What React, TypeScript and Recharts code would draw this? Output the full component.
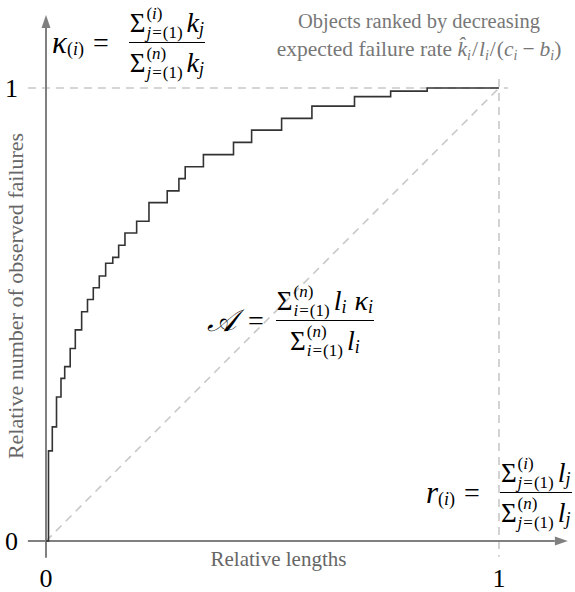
import React from 'react'
import { LineChart, Line, XAxis, YAxis, ReferenceLine, Label } from 'recharts'

// cumulative relative length where each step of the curve happens
const relLength = [
  0, 0.0055, 0.0139, 0.0232, 0.0331, 0.0413, 0.0534, 0.0647, 0.0787, 0.0916,
  0.1044, 0.1176, 0.1317, 0.1474, 0.1604, 0.1743, 0.2001, 0.2273, 0.2676, 0.2934,
  0.3073, 0.3475, 0.4139, 0.4539, 0.5201, 0.587, 0.681, 0.7608, 0.8414, 1,
]
// cumulative relative number of failures reached at that point
const relFailures = [
  0, 0.199, 0.252, 0.318, 0.359, 0.385, 0.425, 0.466, 0.506, 0.533,
  0.559, 0.585, 0.613, 0.626, 0.653, 0.68, 0.706, 0.747, 0.773, 0.8,
  0.826, 0.853, 0.88, 0.907, 0.933, 0.96, 0.981, 0.993, 1, 1,
]
const xTicks = [0, 1]
const yTicks = [0, 1]

const curve = relLength.map((x, i) => ({ x, y: relFailures[i] }))

const serif = "'Liberation Serif', 'Times New Roman', serif"
const axisGray = '#808080'
const dashGray = '#c8c8c8'

const ArrowLine = (props: any) => {
  const { x1, y1, x2, y2 } = props
  const ang = Math.atan2(y2 - y1, x2 - x1)
  const len = 13
  const half = 4.5
  const bx = x2 - len * Math.cos(ang)
  const by = y2 - len * Math.sin(ang)
  const px = -Math.sin(ang) * half
  const py = Math.cos(ang) * half
  return (
    <g>
      <line x1={x1} y1={y1} x2={bx} y2={by} stroke={axisGray} strokeWidth={2} />
      <polygon
        points={`${x2},${y2} ${bx + px},${by + py} ${bx - px},${by - py}`}
        fill={axisGray}
      />
    </g>
  )
}

const XTitle = (props: any) => {
  const { viewBox } = props
  return (
    <text
      x={viewBox.x + viewBox.width / 2 + 6}
      y={viewBox.y + 25}
      textAnchor="middle"
      fontSize={21}
      fill="#666"
      fontFamily={serif}
    >
      Relative lengths
    </text>
  )
}

const YTitle = () => {
  const cx = 23
  const cy = 296
  return (
    <text
      x={cx}
      y={cy}
      transform={`rotate(-90 ${cx} ${cy})`}
      textAnchor="middle"
      fontSize={22}
      fill="#666"
      fontFamily={serif}
    >
      Relative number of observed failures
    </text>
  )
}

const Sub = ({ children }: { children: React.ReactNode }) => (
  <span style={{ fontSize: 18, position: 'relative', top: 6 }}>{children}</span>
)

const Sum = ({ up, lo }: { up: React.ReactNode; lo: React.ReactNode }) => (
  <span style={{ display: 'inline-flex', alignItems: 'center', marginRight: 4 }}>
    <span style={{ fontSize: 27, lineHeight: 1 }}>Σ</span>
    <span
      style={{
        display: 'inline-flex',
        flexDirection: 'column',
        fontSize: 17,
        lineHeight: '19px',
        marginLeft: 1,
      }}
    >
      <span>{up}</span>
      <span>{lo}</span>
    </span>
  </span>
)

const Lower = ({ v }: { v: string }) => (
  <>
    <i>{v}</i>
    <span style={{ margin: '0 1px' }}>=</span>(1)
  </>
)

const Frac = ({ num, den }: { num: React.ReactNode; den: React.ReactNode }) => (
  <span style={{ display: 'inline-flex', flexDirection: 'column', alignItems: 'center' }}>
    <span style={{ display: 'inline-flex', alignItems: 'center', padding: '0 1px 0' }}>{num}</span>
    <span style={{ alignSelf: 'stretch', borderTop: '1.6px solid #000' }} />
    <span style={{ display: 'inline-flex', alignItems: 'center', paddingTop: 1 }}>{den}</span>
  </span>
)

const Formula = ({ left, top, children }: { left: number; top: number; children: React.ReactNode }) => (
  <div
    style={{
      position: 'absolute',
      left,
      top,
      transform: 'translateY(-50%)',
      display: 'flex',
      alignItems: 'center',
      fontFamily: serif,
      fontSize: 28,
      color: '#000',
      whiteSpace: 'nowrap',
    }}
  >
    {children}
  </div>
)

const hatSub = { fontSize: 14, verticalAlign: '-4px' } as const
const eq = { margin: '0 20px 0 9px' }

export default function App() {
  return (
    <div style={{ position: 'absolute', left: 0, top: 0, width: 575, height: 592, background: '#fff' }}>
      <LineChart
        width={575}
        height={592}
        data={curve}
        margin={{ top: 88, right: 76, bottom: 50, left: 45 }}
      >
        <XAxis
          type="number"
          dataKey="x"
          domain={[0, 1]}
          ticks={xTicks}
          interval={0}
          axisLine={false}
          tickLine={false}
          tickSize={0}
          tickMargin={28}
          height={1}
          tick={{ fontSize: 26, fill: '#000', fontFamily: serif }}
        >
          <Label content={XTitle} />
        </XAxis>
        <YAxis
          type="number"
          domain={[0, 1]}
          ticks={yTicks}
          interval={0}
          axisLine={false}
          tickLine={false}
          tickSize={0}
          tickMargin={28}
          width={1}
          tick={{ fontSize: 26, fill: '#000', fontFamily: serif }}
        >
          <Label content={YTitle} />
        </YAxis>
        <ReferenceLine
          segment={[{ x: 0, y: 0 }, { x: 1, y: 1 }]}
          stroke={dashGray}
          strokeWidth={1.6}
          strokeDasharray="8 6"
          ifOverflow="visible"
        />
        <ReferenceLine
          segment={[{ x: -0.04, y: 1 }, { x: 1.02, y: 1 }]}
          stroke={dashGray}
          strokeWidth={1.6}
          strokeDasharray="8 6"
          ifOverflow="visible"
        />
        <ReferenceLine
          segment={[{ x: 1, y: 1.02 }, { x: 1, y: -0.035 }]}
          stroke={dashGray}
          strokeWidth={1.6}
          strokeDasharray="8 6"
          ifOverflow="visible"
        />
        <ReferenceLine
          segment={[{ x: -0.04, y: 0 }, { x: 1.152, y: 0 }]}
          ifOverflow="visible"
          shape={ArrowLine}
        />
        <ReferenceLine
          segment={[{ x: 0, y: -0.037 }, { x: 0, y: 1.161 }]}
          ifOverflow="visible"
          shape={ArrowLine}
        />
        <Line
          type="stepAfter"
          dataKey="y"
          stroke="#333"
          strokeWidth={1.6}
          dot={false}
          activeDot={false}
          isAnimationActive={false}
        />
      </LineChart>

      <div
        style={{
          position: 'absolute',
          left: 419,
          top: 7,
          transform: 'translateX(-50%)',
          textAlign: 'center',
          fontFamily: serif,
          fontSize: 20.5,
          lineHeight: '28px',
          color: '#777',
          whiteSpace: 'nowrap',
        }}
      >
        <div>Objects ranked by decreasing</div>
        <div style={{ fontSize: 21.5 }}>
          expected failure rate <i>k̂</i>
          <span style={hatSub}><i>i</i></span>
          <span style={{ margin: '0 1px' }}>/</span><i>l</i>
          <span style={hatSub}><i>i</i></span>
          <span style={{ margin: '0 1px' }}>/</span>(<i>c</i>
          <span style={hatSub}><i>i</i></span>
          <span style={{ margin: '0 5px' }}>−</span><i>b</i>
          <span style={hatSub}><i>i</i></span>)
        </div>
      </div>

      <Formula left={52} top={43}>
        <i style={{ fontSize: 31 }}>κ</i>
        <Sub>(<i>i</i>)</Sub>
        <span style={eq}>=</span>
        <Frac
          num={<><Sum up={<>(<i>i</i>)</>} lo={<Lower v="j" />} /><i>k</i><Sub><i>j</i></Sub></>}
          den={<><Sum up={<>(<i>n</i>)</>} lo={<Lower v="j" />} /><i>k</i><Sub><i>j</i></Sub></>}
        />
      </Formula>

      <Formula left={207} top={321}>
        <i style={{ fontSize: 31 }}>𝒜</i>
        <span style={{ margin: '0 12px' }}>=</span>
        <Frac
          num={<><Sum up={<>(<i>n</i>)</>} lo={<Lower v="i" />} /><i>l</i><Sub><i>i</i></Sub><span style={{ width: 8 }} /><i>κ</i><Sub><i>i</i></Sub></>}
          den={<><Sum up={<>(<i>n</i>)</>} lo={<Lower v="i" />} /><i>l</i><Sub><i>i</i></Sub></>}
        />
      </Formula>

      <Formula left={426} top={493}>
        <i style={{ fontSize: 31 }}>r</i>
        <Sub>(<i>i</i>)</Sub>
        <span style={eq}>=</span>
        <Frac
          num={<><Sum up={<>(<i>i</i>)</>} lo={<Lower v="j" />} /><i>l</i><Sub><i>j</i></Sub></>}
          den={<><Sum up={<>(<i>n</i>)</>} lo={<Lower v="j" />} /><i>l</i><Sub><i>j</i></Sub></>}
        />
      </Formula>
    </div>
  )
}
